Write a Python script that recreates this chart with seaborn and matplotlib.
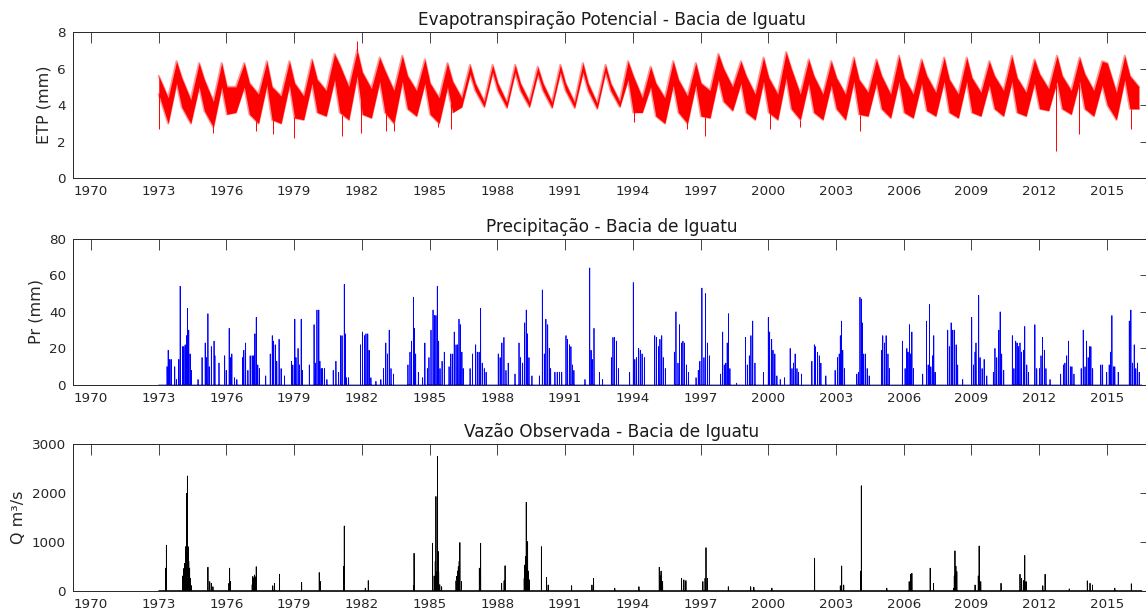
import numpy as np
import pandas as pd
import matplotlib
matplotlib.use("Agg")
import matplotlib.pyplot as plt
import seaborn as sns

# ---------------------------------------------------------------------------
# Potential evapotranspiration (mm/day): yearly envelope of the daily series
# at three phases of the year (January, May minimum, October maximum)
# ---------------------------------------------------------------------------
ETP_YEARS = list(range(1973, 2017))
ETP_PHASE_JAN, ETP_PHASE_MIN, ETP_PHASE_MAX = 0.02, 0.42, 0.79

ETP_JAN_LO = [4.6, 3.9, 3.7, 3.5, 3.5, 3.2, 3.3, 3.6, 3.6, 3.5, 3.6, 3.8, 3.5, 3.6,
              4.8, 4.8, 4.8, 4.8, 4.8, 4.8, 4.8, 3.6, 3.4, 3.6, 3.4, 4.2, 3.6, 3.6,
              3.8, 3.6, 3.8, 3.5, 3.8, 3.6, 3.7, 3.6, 3.6, 3.8, 3.6, 3.8, 3.8, 3.8,
              4.0, 3.8]
ETP_JAN_HI = [5.6, 5.5, 5.4, 5.0, 5.2, 5.0, 5.2, 5.4, 6.2, 5.8, 5.9, 5.6, 5.2, 5.3,
              5.2, 5.2, 5.2, 5.2, 5.2, 5.2, 5.2, 5.6, 5.2, 5.4, 5.2, 6.0, 5.6, 5.5,
              6.0, 5.6, 5.5, 5.4, 5.6, 5.5, 5.6, 5.4, 5.5, 5.6, 5.5, 5.7, 5.6, 5.7,
              6.3, 5.6]
ETP_MIN_LO = [3.0, 3.0, 2.8, 3.6, 3.0, 3.0, 3.2, 3.4, 3.2, 3.3, 3.0, 3.4, 3.0, 3.9,
              3.9, 3.85, 3.9, 3.85, 3.85, 3.8, 3.9, 3.6, 3.0, 3.0, 3.3, 3.7, 3.2, 3.2,
              3.2, 3.2, 3.2, 3.4, 3.3, 3.3, 3.4, 3.3, 3.4, 3.4, 3.4, 3.7, 3.5, 3.4,
              3.2, 3.8]
ETP_MIN_HI = [4.4, 4.3, 4.2, 5.0, 4.6, 4.5, 4.5, 4.8, 5.0, 4.9, 4.8, 4.8, 4.4, 4.4,
              4.2, 4.15, 4.2, 4.15, 4.15, 4.1, 4.2, 4.4, 4.4, 4.5, 4.8, 5.0, 4.6, 4.6,
              4.6, 4.6, 4.6, 4.7, 4.6, 4.6, 4.7, 4.6, 4.7, 4.8, 4.7, 4.9, 4.8, 4.8,
              4.7, 5.0]
ETP_MAX_LO = [5.2, 5.0, 5.0, 5.0, 5.1, 5.1, 5.2, 5.4, 5.6, 5.3, 5.3, 5.2, 5.0, 5.7,
              5.8, 5.8, 5.7, 5.8, 5.8, 5.8, 5.4, 5.0, 5.1, 5.1, 5.4, 5.2, 5.3, 5.5,
              5.2, 5.1, 5.3, 5.2, 5.3, 5.2, 5.3, 5.3, 5.1, 5.3, 5.2, 5.3, 5.3, 5.1,
              5.4, np.nan]
ETP_MAX_HI = [6.4, 6.3, 6.3, 6.3, 6.4, 6.4, 6.5, 6.8, 7.0, 6.6, 6.7, 6.5, 6.3, 6.2,
              6.2, 6.2, 6.1, 6.2, 6.3, 6.2, 6.4, 6.1, 6.4, 6.3, 6.8, 6.4, 6.6, 6.9,
              6.5, 6.4, 6.6, 6.5, 6.7, 6.5, 6.6, 6.6, 6.4, 6.7, 6.5, 6.7, 6.6, 6.4,
              6.7, np.nan]

# isolated daily extremes outside the envelope
ETP_OUT_DATE = [1973.00, 1975.40, 1977.32, 1978.04, 1979.01, 1981.14, 1981.78, 1981.94,
                1983.06, 1983.40, 1985.39, 1985.94, 1994.03, 1996.38, 1997.19, 2000.06,
                2001.42, 2004.07, 2012.74, 2013.76, 2016.06]
ETP_OUT_MM = [2.7, 2.5, 2.6, 2.4, 2.2, 2.3, 7.5, 2.5, 2.6, 2.6, 2.8, 2.7, 3.1, 2.7,
              2.3, 2.7, 2.8, 2.6, 1.5, 2.4, 2.7]

# ---------------------------------------------------------------------------
# Daily precipitation (mm): rainy days
# ---------------------------------------------------------------------------
PR_DATE = [
    1973.37, 1973.42, 1973.49, 1973.55, 1973.71, 1973.78,
    1973.89, 1973.95, 1974.05, 1974.11, 1974.17, 1974.23, 1974.27, 1974.33, 1974.39, 1974.45, 1974.74,
    1974.92, 1975.06, 1975.12, 1975.18, 1975.24, 1975.33, 1975.45, 1975.49, 1975.67,
    1975.92, 1975.99, 1976.12, 1976.17, 1976.24, 1976.36, 1976.46,
    1976.71, 1976.77, 1976.85, 1976.95, 1977.05, 1977.14, 1977.21, 1977.26, 1977.32, 1977.39, 1977.46, 1977.74,
    1977.94, 1978.03, 1978.08, 1978.16, 1978.23, 1978.33, 1978.42, 1978.57,
    1978.88, 1978.94, 1979.03, 1979.08, 1979.17, 1979.23, 1979.31, 1979.36,
    1979.67, 1979.88, 1979.94, 1980.01, 1980.09, 1980.14, 1980.20, 1980.26, 1980.34, 1980.45,
    1980.73, 1980.85, 1980.97, 1981.06, 1981.12, 1981.22, 1981.26, 1981.32, 1981.41,
    1981.94, 1982.03, 1982.12, 1982.18, 1982.26, 1982.32, 1982.40, 1982.62,
    1982.84, 1982.96, 1983.06, 1983.13, 1983.21, 1983.29, 1983.40,
    1984.04, 1984.13, 1984.20, 1984.28, 1984.32, 1984.38, 1984.50, 1984.69, 1984.79,
    1984.90, 1984.97, 1985.06, 1985.15, 1985.21, 1985.28, 1985.34, 1985.40, 1985.46, 1985.55, 1985.65,
    1985.86, 1985.94, 1986.02, 1986.09, 1986.17, 1986.24, 1986.30, 1986.36, 1986.43, 1986.49,
    1986.79, 1986.90, 1987.04, 1987.11, 1987.19, 1987.26, 1987.33, 1987.42, 1987.50,
    1988.04, 1988.12, 1988.20, 1988.29, 1988.38, 1988.48, 1988.78,
    1988.96, 1989.03, 1989.12, 1989.21, 1989.28, 1989.34, 1989.40, 1989.53,
    1989.86, 1989.99, 1990.08, 1990.15, 1990.23, 1990.30, 1990.36, 1990.55, 1990.65, 1990.75, 1990.85,
    1991.04, 1991.11, 1991.19, 1991.26, 1991.33, 1991.39,
    1991.88, 1992.09, 1992.15, 1992.20, 1992.28, 1992.52, 1992.66,
    1993.05, 1993.12, 1993.19, 1993.27, 1993.36,
    1993.86, 1994.02, 1994.09, 1994.17, 1994.26, 1994.33, 1994.41, 1994.51,
    1994.97, 1995.05, 1995.14, 1995.20, 1995.28, 1995.35, 1995.44,
    1995.84, 1995.91, 1996.00, 1996.07, 1996.15, 1996.22, 1996.29, 1996.38, 1996.47,
    1996.80, 1996.90, 1996.97, 1997.06, 1997.15, 1997.22, 1997.30, 1997.39,
    1997.89, 1997.98, 1998.05, 1998.12, 1998.18, 1998.24, 1998.30, 1998.60,
    1998.99, 1999.07, 1999.16, 1999.23, 1999.31, 1999.41,
    1999.79, 2000.00, 2000.06, 2000.15, 2000.21, 2000.29, 2000.38, 2000.53, 2000.72,
    2000.97, 2001.05, 2001.12, 2001.19, 2001.27, 2001.34, 2001.47,
    2001.93, 2002.04, 2002.08, 2002.18, 2002.26, 2002.33, 2002.55,
    2002.96, 2003.07, 2003.14, 2003.19, 2003.24, 2003.30, 2003.38,
    2003.92, 2003.99, 2004.06, 2004.12, 2004.16, 2004.23, 2004.31, 2004.38, 2004.47,
    2005.01, 2005.07, 2005.15, 2005.22, 2005.30, 2005.37,
    2005.94, 2006.06, 2006.14, 2006.19, 2006.25, 2006.31, 2006.36, 2006.43,
    2006.84, 2007.01, 2007.08, 2007.14, 2007.20, 2007.27, 2007.33, 2007.39,
    2007.95, 2008.02, 2008.10, 2008.17, 2008.24, 2008.32, 2008.39, 2008.61,
    2009.01, 2009.09, 2009.16, 2009.20, 2009.32, 2009.38, 2009.47, 2009.56, 2009.68,
    2009.97, 2010.04, 2010.12, 2010.21, 2010.27, 2010.34, 2010.43,
    2010.81, 2010.88, 2010.96, 2011.02, 2011.09, 2011.15, 2011.22, 2011.30, 2011.36, 2011.45, 2011.53,
    2011.81, 2011.89, 2012.01, 2012.08, 2012.15, 2012.23, 2012.30, 2012.48,
    2012.95, 2013.07, 2013.14, 2013.22, 2013.30, 2013.38, 2013.45, 2013.54,
    2013.86, 2013.95, 2014.03, 2014.10, 2014.17, 2014.23, 2014.29, 2014.37,
    2014.73, 2014.81, 2014.99, 2015.10, 2015.16, 2015.22, 2015.29, 2015.35, 2015.50,
    2015.99, 2016.06, 2016.14, 2016.21, 2016.28, 2016.36, 2016.43,
]
PR_MM = [
    10, 19, 14, 14, 10, 3,
    14, 54, 21, 21, 22, 27, 42, 30, 17, 8, 3,
    15, 23, 15, 39, 10, 21, 24, 16, 12,
    16, 8, 31, 15, 17, 4, 3,
    15, 19, 23, 8, 16, 16, 16, 28, 37, 11, 9, 5,
    17, 27, 24, 22, 13, 25, 9, 5,
    13, 11, 36, 15, 20, 11, 36, 8,
    11, 33, 12, 41, 41, 13, 9, 9, 9, 3,
    8, 13, 7, 27, 27, 55, 28, 4, 4,
    22, 29, 27, 28, 28, 19, 4, 2,
    3, 9, 23, 17, 30, 9, 6,
    11, 18, 24, 48, 31, 17, 7, 4, 23,
    9, 15, 30, 41, 38, 38, 54, 24, 9, 13, 18,
    10, 17, 17, 29, 22, 22, 36, 33, 18, 9,
    9, 17, 22, 18, 18, 42, 12, 9, 7,
    17, 15, 23, 26, 8, 12, 6,
    23, 15, 12, 34, 41, 28, 15, 5,
    5, 52, 17, 36, 33, 20, 9, 7, 7, 7, 7,
    27, 25, 22, 21, 11, 8,
    3, 64, 19, 14, 31, 7, 3,
    15, 26, 26, 24, 9,
    7, 56, 14, 15, 20, 19, 17, 15,
    27, 26, 21, 25, 27, 15, 9,
    18, 40, 12, 33, 23, 24, 23, 11, 7,
    4, 8, 13, 53, 15, 50, 23, 16,
    6, 29, 11, 12, 23, 39, 9, 1,
    26, 11, 16, 27, 35, 12,
    7, 37, 29, 25, 19, 17, 5, 3, 4,
    20, 9, 12, 17, 9, 7, 6,
    13, 22, 21, 18, 16, 12, 5,
    8, 15, 17, 27, 35, 19, 9,
    6, 7, 48, 47, 34, 17, 17, 9, 5,
    19, 27, 23, 27, 17, 9,
    24, 9, 20, 18, 33, 17, 29, 9,
    6, 35, 11, 44, 10, 16, 27, 7,
    30, 21, 34, 30, 30, 22, 11, 3,
    37, 11, 18, 23, 49, 15, 9, 14, 5,
    7, 20, 15, 30, 40, 17, 8,
    27, 9, 24, 23, 21, 23, 18, 19, 32, 11, 7,
    33, 9, 9, 16, 26, 19, 9, 3,
    6, 11, 12, 16, 24, 10, 10, 6,
    9, 30, 10, 24, 15, 21, 21, 9,
    11, 11, 7, 11, 18, 38, 10, 10, 7,
    35, 41, 12, 22, 9, 12, 7,
]

# ---------------------------------------------------------------------------
# Observed daily discharge (m3/s): flood days
# ---------------------------------------------------------------------------
Q_DATE = [
    1973.30, 1973.34,
    1974.05, 1974.10, 1974.15, 1974.19, 1974.23, 1974.27, 1974.30, 1974.33, 1974.37, 1974.41, 1974.45,
    1975.18, 1975.26, 1975.33, 1975.40,
    1976.11, 1976.14, 1976.18,
    1977.14, 1977.17, 1977.20, 1977.24, 1977.28, 1977.32,
    1978.05, 1978.13, 1978.35,
    1979.33,
    1980.11, 1980.16,
    1981.19, 1981.22,
    1982.15, 1982.28,
    1984.29, 1984.31,
    1985.13, 1985.20, 1985.25, 1985.28, 1985.31, 1985.35, 1985.38, 1985.40, 1985.45, 1985.53,
    1986.17, 1986.20, 1986.24, 1986.27, 1986.31, 1986.34, 1986.41,
    1987.20, 1987.26,
    1988.19, 1988.30, 1988.34,
    1989.19, 1989.22, 1989.25, 1989.28, 1989.31, 1989.34, 1989.38, 1989.42,
    1989.95, 1990.18, 1990.25,
    1991.29,
    1992.19, 1992.26,
    1993.20,
    1994.27,
    1995.17, 1995.21, 1995.25, 1995.32,
    1996.16, 1996.26, 1996.35,
    1997.10, 1997.20, 1997.24, 1997.31,
    1998.23,
    1999.22, 1999.36,
    2000.16,
    2002.05,
    2003.19, 2003.25, 2003.34,
    2004.10, 2004.12,
    2005.25,
    2006.24, 2006.31, 2006.36,
    2007.17, 2007.32,
    2008.20, 2008.24, 2008.27, 2008.31, 2008.35,
    2009.16, 2009.30, 2009.34, 2009.41,
    2010.31,
    2011.15, 2011.22, 2011.30, 2011.36, 2011.42,
    2012.16, 2012.26,
    2013.33,
    2014.13, 2014.25, 2014.36,
    2015.35,
    2016.08,
]
Q_M3S = [
    460, 930,
    300, 450, 560, 900, 1990, 2350, 900, 600, 460, 250, 100,
    480, 185, 150, 80,
    150, 460, 185,
    120, 290, 250, 320, 280, 490,
    100, 150, 335,
    170,
    370, 185,
    490, 1325,
    50, 205,
    100, 765,
    970, 300, 600, 1930, 390, 2750, 800, 390, 120, 80,
    200, 290, 400, 490, 600, 985, 185,
    460, 970,
    150, 200, 510,
    250, 525, 700, 1810, 600, 1005, 400, 220,
    900, 270, 115,
    100,
    115, 250,
    50,
    80,
    480, 300, 400, 185,
    250, 220, 205,
    185, 250, 880, 250,
    80,
    80, 70,
    50,
    665,
    100, 505, 115,
    400, 2150,
    50,
    185, 335, 355,
    460, 150,
    50, 300, 815, 500, 390,
    115, 300, 915, 185,
    150,
    335, 250, 205, 720, 185,
    100, 335,
    35,
    200, 150, 115,
    50,
    140,
]

SERIES_START, SERIES_END = 1973.0, 2016.55
X_TICKS = list(range(1970, 2016, 3))
TITLES = ["Evapotranspiração Potencial - Bacia de Iguatu",
          "Precipitação - Bacia de Iguatu",
          "Vazão Observada - Bacia de Iguatu"]
Y_LABELS = ["ETP (mm)", "Pr (mm)", "Q m³/s"]
Y_TICKS = [[0, 2, 4, 6, 8], [0, 20, 40, 60, 80], [0, 1000, 2000, 3000]]


def daily_series(dates, values):
    """Zero-filled daily series carrying the listed values on their days."""
    t = np.arange(SERIES_START, SERIES_END, 1 / 365.25)
    y = np.zeros_like(t)
    idx = np.clip(np.rint((np.asarray(dates) - SERIES_START) * 365.25).astype(int), 0, len(t) - 1)
    np.maximum.at(y, idx, np.asarray(values, dtype=float))
    return pd.DataFrame({"ano": t, "valor": y})


def etp_envelope():
    rows = []
    for i, yr in enumerate(ETP_YEARS):
        rows.append((yr + ETP_PHASE_JAN, ETP_JAN_LO[i], ETP_JAN_HI[i]))
        rows.append((yr + ETP_PHASE_MIN, ETP_MIN_LO[i], ETP_MIN_HI[i]))
        rows.append((yr + ETP_PHASE_MAX, ETP_MAX_LO[i], ETP_MAX_HI[i]))
    env = pd.DataFrame(rows, columns=["ano", "min", "max"]).dropna()
    env.loc[env.index[0], "ano"] = SERIES_START
    return env


sns.set_theme(style="white")
plt.rcParams["font.family"] = ["DejaVu Sans"]
INK = "#262626"
RED = "#ff0000"

fig = plt.figure(figsize=(11.46, 6.15), dpi=100)
left, width = 73 / 1146, (1150.5 - 73) / 1146
tops = [32, 238.7, 444.3]
height_px = 146.3
axes = [fig.add_axes([left, 1 - (t + height_px) / 615, width, height_px / 615]) for t in tops]

# --- ETP band: solid core with a soft fringe on both limits ---
ax = axes[0]
env = etp_envelope()
ax.fill_between(env["ano"], env["min"], env["max"], color=RED, lw=0)
env_long = env.melt(id_vars="ano", value_vars=["min", "max"], var_name="lim", value_name="etp")
sns.lineplot(data=env_long, x="ano", y="etp", units="lim", estimator=None, sort=False,
             color=RED, lw=1.6, alpha=0.4, ax=ax, legend=False)
out_t = np.asarray(ETP_OUT_DATE)
out_v = np.asarray(ETP_OUT_MM)
lo_at = np.interp(out_t, env["ano"], env["min"])
hi_at = np.interp(out_t, env["ano"], env["max"])
below = out_v < lo_at
ax.vlines(out_t[below], out_v[below], lo_at[below], color=RED, lw=0.7)
ax.vlines(out_t[~below], hi_at[~below], out_v[~below], color=RED, lw=0.7)

# --- precipitation ---
pr = daily_series(PR_DATE, PR_MM)
sns.lineplot(data=pr, x="ano", y="valor", estimator=None, sort=False,
             color="#0000ff", lw=0.55, ax=axes[1])

# --- discharge ---
q = daily_series(Q_DATE, Q_M3S)
sns.lineplot(data=q, x="ano", y="valor", estimator=None, sort=False,
             color="black", lw=0.6, ax=axes[2])

for ax, title, ylab, yt in zip(axes, TITLES, Y_LABELS, Y_TICKS):
    ax.set_xlim(1969.203, 2016.93)
    ax.set_ylim(yt[0], yt[-1])
    ax.set_xticks(X_TICKS)
    ax.set_xticklabels([str(v) for v in X_TICKS])
    ax.set_yticks(yt)
    ax.set_title(title, fontsize=12.2, pad=5, color="#1a1a1a")
    ax.set_ylabel(ylab, fontsize=11.5, color=INK, labelpad=4)
    ax.set_xlabel("")
    ax.tick_params(axis="both", which="both", direction="in", length=8, width=0.6,
                   top=True, right=True, labelsize=9.7, colors=INK, pad=5)
    for sp in ax.spines.values():
        sp.set_visible(True)
        sp.set_color(INK)
        sp.set_linewidth(0.7)
    ax.set_facecolor("white")

fig.savefig("out.png", dpi=100, facecolor="white")
